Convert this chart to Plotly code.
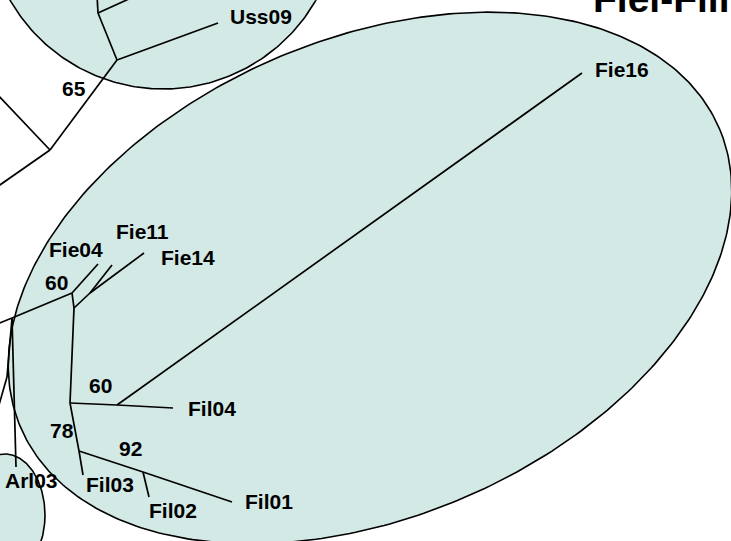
import numpy as np
import plotly.graph_objects as go

# ---- tree layout (node positions in drawing units, y grows downward) ----
NODE_NAMES = [
    "u_top", "u_side", "u1", "u2", "Uss09", "r1", "r_up", "r_down",
    "m0", "a1", "a2", "a_off", "Arl03",
    "n60", "Fie04", "b1", "b2", "Fie11", "Fie14",
    "n60b", "c60", "Fil04", "Fie16",
    "n78", "Fil03", "n92", "Fil01", "Fil02",
]
NODE_X = [97, 131, 98, 117, 218, 50, -3, -3,
          -3, 12, 7, -1, 16,
          72, 98, 74, 90, 112, 144,
          70, 117, 173, 582,
          79, 83, 143, 232, 149]
NODE_Y = [-5, -2, 13, 60, 23, 150, 94, 187,
          324, 318, 377, 405, 467,
          293, 264, 308, 293, 265, 253,
          403, 405, 408, 73,
          451, 475, 472, 502, 497]

EDGES = [
    ("u_top", "u1"), ("u1", "u_side"), ("u1", "u2"), ("u2", "Uss09"),
    ("u2", "r1"), ("r1", "r_up"), ("r1", "r_down"),
    ("m0", "a1"), ("a1", "n60"), ("a1", "a2"), ("a2", "a_off"), ("a1", "Arl03"),
    ("n60", "Fie04"), ("n60", "b1"), ("b1", "b2"), ("b2", "Fie11"), ("b2", "Fie14"),
    ("b1", "n60b"), ("n60b", "c60"), ("c60", "Fil04"), ("c60", "Fie16"),
    ("n60b", "n78"), ("n78", "Fil03"), ("n78", "n92"), ("n92", "Fil01"), ("n92", "Fil02"),
]

# ---- taxon labels ----
TIP_LABELS = ["Uss09", "Fie16", "Fie04", "Fie11", "Fie14",
              "Fil04", "Fil03", "Fil02", "Fil01", "Arl03"]
TIP_LABEL_X = [261, 622, 76, 142, 188, 212, 110, 173, 269, 31]
TIP_LABEL_Y = [16, 69, 249, 231, 257, 408, 484, 510, 501, 480]

# ---- bootstrap support values ----
BOOTSTRAP = [65, 60, 60, 78, 92]
BOOT_X = [74, 56, 100, 62, 130]
BOOT_Y = [88, 282, 385, 430, 448]

# ---- clade highlight ellipses: (cx, cy, semi-major, semi-minor, tilt deg) ----
CLADES = [
    (163, -87, 176, 176, 0.0),     # Uss group
    (370, 278, 380, 239, 23.2),    # Fie / Fil group
    (5, 515, 40, 61, 0.0),         # Arl group
]
TITLE = "Fiel-Fill"

FILL = "#d2e9e5"
INK = "black"
FONT = "Liberation Sans, Arial, sans-serif"

fig = go.Figure()

# filled clade ellipses
t = np.linspace(0, 2 * np.pi, 400)
for cx, cy, a, b, ang in CLADES:
    th = np.deg2rad(ang)
    ex = cx + a * np.cos(th) * np.cos(t) - b * np.sin(th) * np.sin(t)
    ey = cy - (a * np.sin(th) * np.cos(t) + b * np.cos(th) * np.sin(t))
    fig.add_trace(go.Scatter(
        x=ex, y=ey, mode="lines", fill="toself", fillcolor=FILL,
        line=dict(color=INK, width=1.6), hoverinfo="skip",
    ))

# tree branches
pos = {n: (x, y) for n, x, y in zip(NODE_NAMES, NODE_X, NODE_Y)}
bx, by = [], []
for p, c in EDGES:
    bx += [pos[p][0], pos[c][0], None]
    by += [pos[p][1], pos[c][1], None]
fig.add_trace(go.Scatter(x=bx, y=by, mode="lines",
                         line=dict(color=INK, width=1.7), hoverinfo="skip"))

annotations = []
for txt, x, y in zip(TIP_LABELS, TIP_LABEL_X, TIP_LABEL_Y):
    annotations.append(dict(x=x, y=y, text=txt, showarrow=False,
                            xanchor="center", yanchor="middle",
                            font=dict(family=FONT, size=21, color=INK, weight="bold")))
for v, x, y in zip(BOOTSTRAP, BOOT_X, BOOT_Y):
    annotations.append(dict(x=x, y=y, text=str(v), showarrow=False,
                            xanchor="center", yanchor="middle",
                            font=dict(family=FONT, size=21, color=INK, weight="bold")))
annotations.append(dict(x=591, y=22, text=TITLE, showarrow=False,
                        xanchor="left", yanchor="bottom",
                        font=dict(family=FONT, size=39, color=INK, weight="bold")))

fig.update_layout(
    width=731, height=541,
    margin=dict(l=0, r=0, t=0, b=0),
    paper_bgcolor="white", plot_bgcolor="white",
    showlegend=False,
    xaxis=dict(range=[0, 731], visible=False, fixedrange=True),
    yaxis=dict(range=[541, 0], visible=False, fixedrange=True),
    annotations=annotations,
)

fig.write_html("out.html", config={"displayModeBar": False})
